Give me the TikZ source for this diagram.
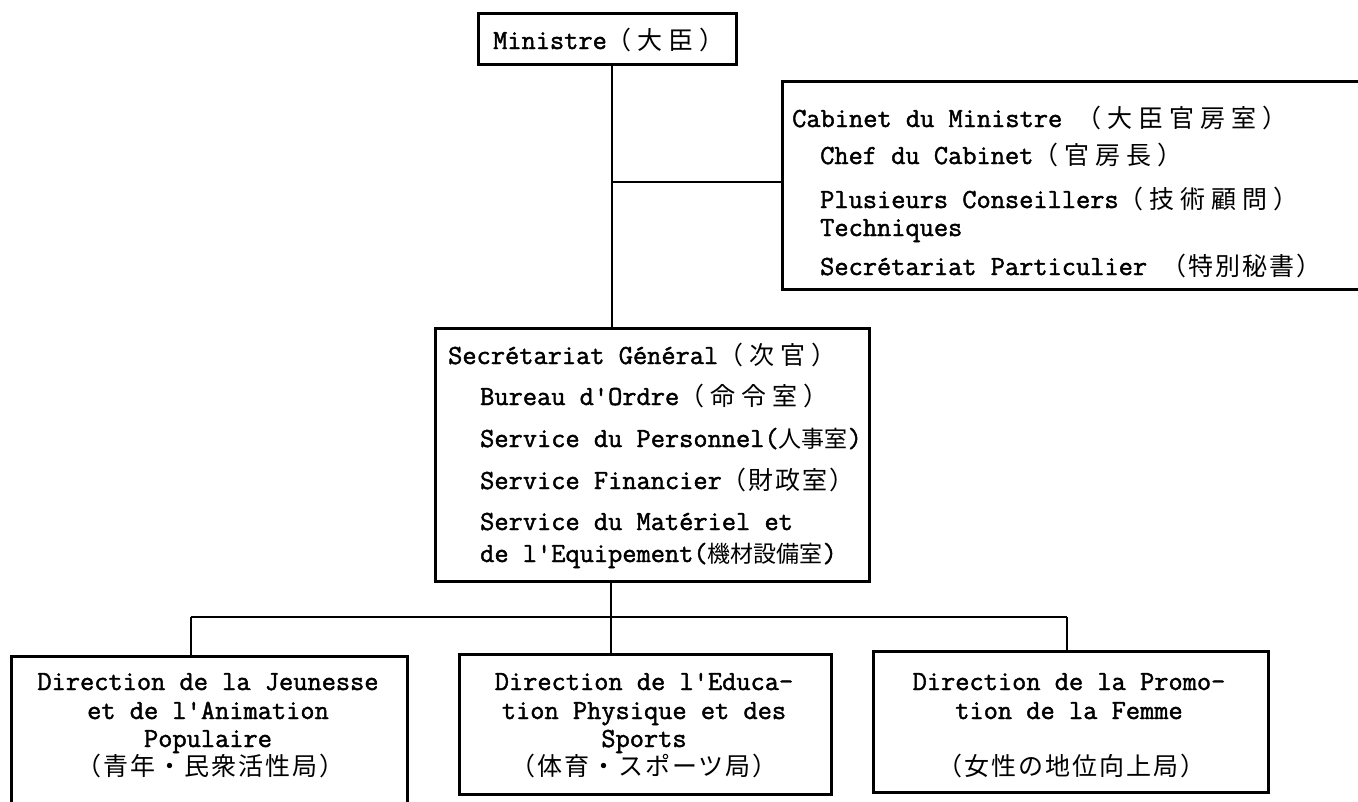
\documentclass[tikz,border=0pt]{standalone}
\usepackage{fontspec}
\setmonofont{Latin Modern Mono}[FakeBold=1.6]
\newfontfamily\cjWfam{Noto Sans CJK JP}[LetterSpace=24]
\newfontfamily\cjMfam{Noto Sans CJK JP}[LetterSpace=8]
\newfontfamily\cjTfam{Noto Sans CJK JP}
\newcommand\cw[1]{{\cjWfam\fontsize{25}{30}\selectfont #1}}
\newcommand\cm[1]{{\cjMfam\fontsize{25}{30}\selectfont #1}}
\newcommand\ct[1]{{\cjTfam\fontsize{23}{30}\selectfont #1}}
\newcommand\monofnt{\ttfamily\fontsize{27.6}{30}\selectfont}
\tikzset{
  box/.style={draw, line width=2.6pt, rectangle, inner sep=0pt},
  conn/.style={line width=2.2pt},
  lt/.style={inner sep=0pt, anchor=base west, font=\monofnt},
  mt/.style={inner sep=0pt, anchor=base, font=\monofnt},
}
\begin{document}
\begin{tikzpicture}[x=1pt,y=-1pt]
\useasboundingbox (0,0) rectangle (1358,801);
\fill[white] (0,0) rectangle (1358,801);
% boxes
\node[box, anchor=north west, minimum width=258pt, minimum height=51pt] (min) at (477,12) {};
\node[box, anchor=north west, minimum width=590pt, minimum height=208pt] (cab) at (781,80) {};
\node[box, anchor=north west, minimum width=434pt, minimum height=253pt] (sec) at (434,327) {};
\node[box, anchor=north west, minimum width=396pt, minimum height=155pt] (d1) at (10,655) {};
\node[box, anchor=north west, minimum width=372pt, minimum height=140pt] (d2) at (458,653) {};
\node[box, anchor=north west, minimum width=395pt, minimum height=141pt] (d3) at (872,650) {};
% connectors
\coordinate (v1) at (612,0);
\coordinate (jb) at (612,182);
\coordinate (v2) at (611,0);
\coordinate (hl) at (191,617);
\coordinate (hr) at (1067,617);
\draw[conn] (min.south -| v1) -- (sec.north -| v1);
\draw[conn] (jb) -- (jb -| cab.west);
\draw[conn] (sec.south -| v2) -- (d2.north -| v2);
\draw[conn] (hl) -- (hr);
\draw[conn] (hl) -- (hl |- d1.north);
\draw[conn] (hr) -- (hr |- d3.north);
% Ministre
\node[mt] (m1) at (609,49) {Ministre\cw{（大臣）}};
% Cabinet
\node[lt] (c1) at (792,127) {Cabinet du Ministre \cw{（大臣官房室）}};
\node[lt] (c2) at (820,164) {Chef du Cabinet\cw{（官房長）}};
\node[lt] (c3) at (820,208) {Plusieurs Conseillers\cw{（技術顧問）}};
\node[lt] (c4) at (820,236) {Techniques};
\node[lt] (c5) at (820,275) {Secrétariat Particulier \cm{（特別秘書）}};
% Secretariat General
\node[lt] (s1) at (448,364) {Secrétariat Général\cw{（次官）}};
\node[lt] (s2) at (480,405) {Bureau d'Ordre\cw{（命令室）}};
\node[lt] (s3) at (480,447) {Service du Personnel(\ct{人事室})};
\node[lt] (s4) at (480,489) {Service Financier\cm{（財政室）}};
\node[lt] (s5) at (480,530) {Service du Matériel et};
\node[lt] (s6) at (480,562) {de l'Equipement(\ct{機材設備室})};
% Directions
\node[mt] (a1) at (208,690) {Direction de la Jeunesse};
\node[mt] (a2) at (208,719) {et de l'Animation};
\node[mt] (a3) at (208,747) {Populaire};
\node[mt] (a4) at (210,775) {\cm{（青年・民衆活性局）}};
\node[mt] (b1) at (644,690) {Direction de l'Educa-};
\node[mt] (b2) at (644,719) {tion Physique et des};
\node[mt] (b3) at (644,747) {Sports};
\node[mt] (b4) at (644,775) {\cm{（体育・スポーツ局）}};
\node[mt] (f1) at (1069,690) {Direction de la Promo-};
\node[mt] (f2) at (1069,719) {tion de la Femme};
\node[mt] (f4) at (1071,775) {\cm{（女性の地位向上局）}};
\end{tikzpicture}
\end{document}
